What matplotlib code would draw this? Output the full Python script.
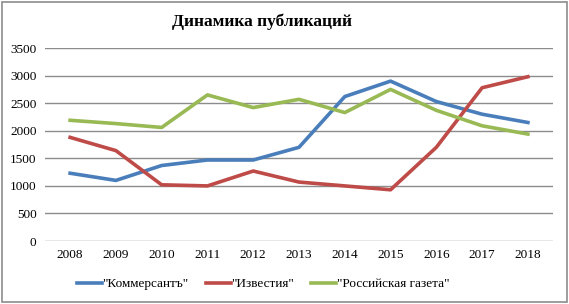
import matplotlib.pyplot as plt
from matplotlib.patches import Rectangle

plt.rcParams['font.family'] = ['Liberation Serif', 'DejaVu Serif']

years = [2008, 2009, 2010, 2011, 2012, 2013, 2014, 2015, 2016, 2017, 2018]
kommersant = [1230, 1100, 1370, 1470, 1470, 1700, 2620, 2900, 2530, 2300, 2150]
izvestia = [1880, 1640, 1020, 1000, 1270, 1070, 1000, 930, 1700, 2780, 2980]
rg = [2190, 2130, 2060, 2650, 2420, 2570, 2330, 2750, 2370, 2090, 1940]

fig = plt.figure(figsize=(5.69, 3.04), dpi=100)
ax = fig.add_axes([0.079, 0.207, 0.893, 0.635])

x = range(len(years))
ax.plot(x, kommersant, color='#4a7ebb', lw=2.6, label='"Коммерсантъ"')
ax.plot(x, izvestia, color='#be4b48', lw=2.6, label='"Известия"')
ax.plot(x, rg, color='#98b954', lw=2.6, label='"Российская газета"')

ax.set_xlim(-0.55, len(years) - 0.45)
ax.set_ylim(0, 3500)
ax.set_yticks(range(0, 3501, 500))
ax.set_xticks(list(x))
ax.set_xticklabels([str(y) for y in years])
ax.yaxis.grid(True, color='#8c8c8c', lw=1)
ax.set_axisbelow(True)
for s in ax.spines.values():
    s.set_visible(False)
ax.tick_params(length=0, labelsize=9.5, pad=6)

fig.text(262 / 569, 1 - 22 / 304, 'Динамика публикаций', fontsize=12.5,
         fontweight='bold', ha='center', va='center')
fig.legend(*ax.get_legend_handles_labels(), loc='center',
           bbox_to_anchor=(263 / 569, 1 - 284 / 304), ncol=3, frameon=False,
           fontsize=9.5, handlelength=1.9, columnspacing=1.3, handletextpad=0.05)

fig.patches.append(Rectangle((0.004, 0.006), 0.992, 0.988, transform=fig.transFigure,
                             fill=False, edgecolor='#8c8c8c', lw=1.2))

fig.savefig('out.png', dpi=100)
